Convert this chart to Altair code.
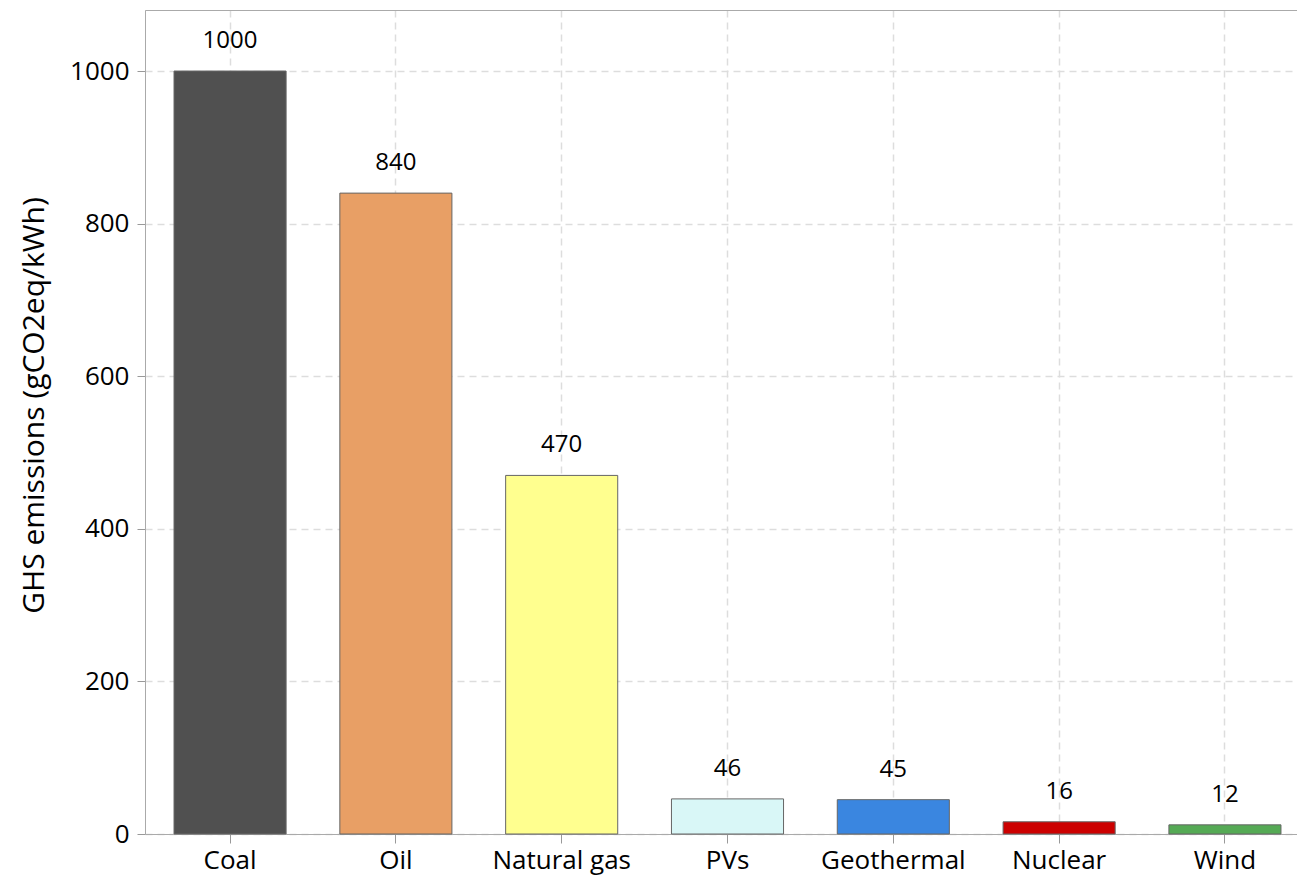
import altair as alt
import pandas as pd

sources = ["Coal", "Oil", "Natural gas", "PVs", "Geothermal", "Nuclear", "Wind"]
emissions = [1000, 840, 470, 46, 45, 16, 12]
colors = ["#505050", "#e89f65", "#ffff8f", "#d9f7f7", "#3a86e0", "#cc0000", "#55aa55"]
y_ticks = [0, 200, 400, 600, 800, 1000]

df = pd.DataFrame({"source": sources, "value": emissions, "color": colors})

FONT = "Open Sans"
W, H = 1152, 824

xscale = alt.Scale(domain=sources, range=[0, 1165], paddingInner=0.324, paddingOuter=0.175)
yscale = alt.Scale(domain=[0, 1080], nice=False, zero=True)

yaxis = alt.Axis(title="GHS emissions (gCO2eq/kWh)", values=y_ticks, format="d",
                 titleFontSize=30, titleFont=FONT, titleFontWeight="normal",
                 titleColor="black", titlePadding=20, titleY=395,
                 labelFontSize=26, labelFont=FONT, labelColor="black",
                 labelPadding=8, tickSize=8, tickColor="#999999",
                 domainColor="#aaaaaa", grid=True, gridDash=[7, 5],
                 gridColor="#dddddd", gridWidth=1.5)

bars = alt.Chart(df).mark_bar(stroke="#666666", strokeWidth=1).encode(
    x=alt.X("source:N", scale=xscale, sort=sources,
            axis=alt.Axis(title=None, labelAngle=0, labelFontSize=26, labelFont=FONT,
                          labelColor="black", labelPadding=4, tickSize=9, tickColor="#999999",
                          domainColor="#aaaaaa", grid=True, gridDash=[7, 5],
                          gridColor="#dddddd", gridWidth=1.5)),
    y=alt.Y("value:Q", scale=yscale, axis=yaxis),
    color=alt.Color("color:N", scale=None),
)

labels = alt.Chart(df).mark_text(font=FONT, fontSize=24, color="black", dy=-30,
                                  baseline="middle").encode(
    x=alt.X("source:N", scale=xscale, sort=sources,
            axis=alt.Axis(orient="top", labels=False, ticks=False, grid=False,
                          title=None, domainColor="#aaaaaa")),
    y=alt.Y("value:Q", scale=yscale, axis=yaxis),
    text=alt.Text("value:Q"),
)

chart = alt.layer(bars, labels).resolve_axis(x="independent").properties(
    width=W, height=H,
    autosize=alt.AutoSizeParams(type="none"),
    padding={"left": 145, "top": 10, "right": 0, "bottom": 46},
).configure_view(stroke=None).configure(background="white")

chart.save("out.html", embed_options={"renderer": "svg", "actions": False})
